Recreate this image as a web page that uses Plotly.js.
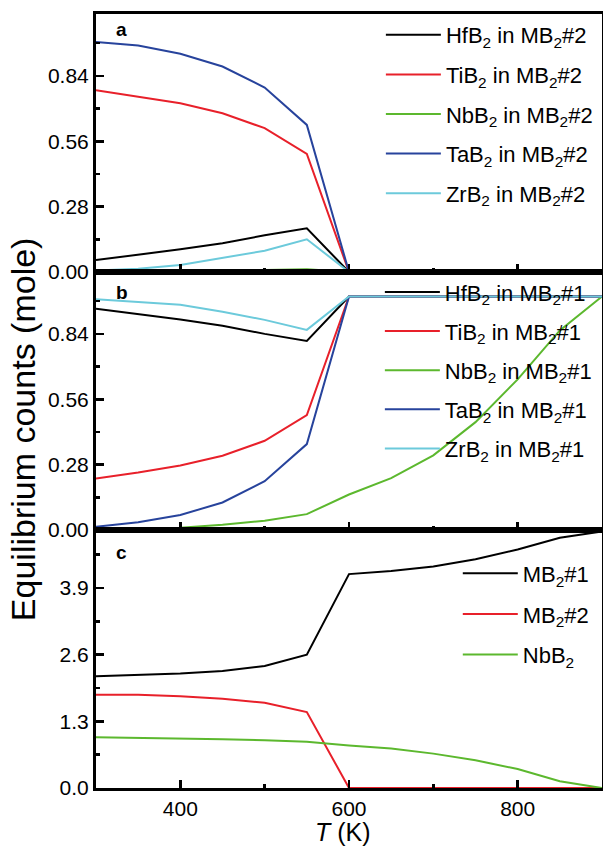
<!DOCTYPE html>
<html><head><meta charset="utf-8">
<script src="https://cdn.plot.ly/plotly-3.0.1.min.js"></script>
<style>html,body{margin:0;padding:0;background:#fff}</style>
</head><body><div id="chart" style="width:603px;height:847px"></div>
<script>
// Temperature (K)
const T = [300,350,400,450,500,550,600,650,700,750,800,850,900];
// Panel a: composition of MB2#2 (mole)
const hfB2_in2 = [0.051,0.073,0.097,0.123,0.157,0.187,0,0,0,0,0,0,0];
const tiB2_in2 = [0.778,0.752,0.723,0.680,0.616,0.506,0,0,0,0,0,0,0];
const nbB2_in2 = [0.001,0.002,0.003,0.005,0.009,0.012,0,0,0,0,0,0,0];
const taB2_in2 = [0.985,0.970,0.935,0.880,0.790,0.630,0,0,0,0,0,0,0];
const zrB2_in2 = [0.006,0.014,0.030,0.059,0.091,0.140,0,0,0,0,0,0,0];
// Panel b: composition of MB2#1 (mole)
const hfB2_in1 = [0.948,0.926,0.902,0.875,0.840,0.810,1,1,1,1,1,1,1];
const tiB2_in1 = [0.221,0.246,0.276,0.318,0.382,0.492,1,1,1,1,1,1,1];
const nbB2_in1 = [0,0.004,0.010,0.022,0.040,0.068,0.152,0.222,0.320,0.462,0.645,0.855,1.0];
const taB2_in1 = [0.014,0.033,0.064,0.118,0.209,0.368,1,1,1,1,1,1,1];
const zrB2_in1 = [0.988,0.978,0.965,0.935,0.900,0.857,1,1,1,1,1,1,1];
// Panel c: phase amounts (mole)
const mb2_1 = [2.18,2.20,2.23,2.28,2.38,2.60,4.17,4.23,4.32,4.46,4.65,4.88,5.0];
const mb2_2 = [1.82,1.82,1.79,1.74,1.66,1.48,0,0,0,0,0,0,0];
const nbB2  = [0.99,0.98,0.97,0.95,0.93,0.90,0.83,0.77,0.67,0.54,0.37,0.13,0];

const FONT = 'Arial, "Liberation Sans", sans-serif';
const C = {black:'#000000', red:'#e8202a', green:'#5cb82e', blue:'#27439c', cyan:'#6ccadb'};

function tr(y, name, color, xa, ya, leg, grp){
  return {x:T, y:y, name:name, type:'scatter', mode:'lines',
    line:{color:color, width:2}, xaxis:xa, yaxis:ya, legend:leg, legendgroup:grp};
}
const data = [
  tr(hfB2_in2,'HfB<sub>2</sub> in MB<sub>2</sub>#2',C.black,'x','y','legend','a1'),
  tr(tiB2_in2,'TiB<sub>2</sub> in MB<sub>2</sub>#2',C.red,'x','y','legend','a2'),
  tr(nbB2_in2,'NbB<sub>2</sub> in MB<sub>2</sub>#2',C.green,'x','y','legend','a3'),
  tr(taB2_in2,'TaB<sub>2</sub> in MB<sub>2</sub>#2',C.blue,'x','y','legend','a4'),
  tr(zrB2_in2,'ZrB<sub>2</sub> in MB<sub>2</sub>#2',C.cyan,'x','y','legend','a5'),
  tr(hfB2_in1,'HfB<sub>2</sub> in MB<sub>2</sub>#1',C.black,'x2','y2','legend2','b1'),
  tr(tiB2_in1,'TiB<sub>2</sub> in MB<sub>2</sub>#1',C.red,'x2','y2','legend2','b2'),
  tr(nbB2_in1,'NbB<sub>2</sub> in MB<sub>2</sub>#1',C.green,'x2','y2','legend2','b3'),
  tr(taB2_in1,'TaB<sub>2</sub> in MB<sub>2</sub>#1',C.blue,'x2','y2','legend2','b4'),
  tr(zrB2_in1,'ZrB<sub>2</sub> in MB<sub>2</sub>#1',C.cyan,'x2','y2','legend2','b5'),
  tr(mb2_1,'MB<sub>2</sub>#1',C.black,'x3','y3','legend3','c1'),
  tr(mb2_2,'MB<sub>2</sub>#2',C.red,'x3','y3','legend3','c2'),
  tr(nbB2,'NbB<sub>2</sub>',C.green,'x3','y3','legend3','c3')
];

function xax(anchor, labels){
  return {anchor:anchor, domain:[0,1], range:[300,900], tick0:0, dtick:200,
    ticks:'inside', ticklen:8, tickwidth:2.5, tickcolor:'#000',
    showticklabels:labels, tickfont:{family:FONT,size:21,color:'#000'},
    ticklabelstandoff:0,
    showline:true, linewidth:3, linecolor:'#000', mirror:true,
    showgrid:false, zeroline:false,
    minor:{ticks:'inside', ticklen:4, tickwidth:2.5, tickcolor:'#000', dtick:100, tick0:0, showgrid:false}};
}
function yax(anchor, domain, range, dtick, fmt){
  return {anchor:anchor, domain:domain, range:range, tick0:0, dtick:dtick, tickformat:fmt,
    ticks:'inside', ticklen:8, tickwidth:2.5, tickcolor:'#000',
    tickfont:{family:FONT,size:21,color:'#000'},
    showline:true, linewidth:3, linecolor:'#000', mirror:true,
    showgrid:false, zeroline:false,
    minor:{ticks:'inside', ticklen:4, tickwidth:2.5, tickcolor:'#000', dtick:dtick/2, tick0:0, showgrid:false}};
}
const legBase = {xanchor:'left', yanchor:'top', bgcolor:'rgba(0,0,0,0)', borderwidth:0,
  font:{family:FONT,size:22,color:'#000'}, itemwidth:55};

const layout = {
  width:603, height:847, margin:{l:96, r:1, t:14, b:59},
  paper_bgcolor:'#fff', plot_bgcolor:'#fff', showlegend:true,
  font:{family:FONT, color:'#000'},
  xaxis: xax('y', false),
  xaxis2: xax('y2', false),
  xaxis3: xax('y3', true),
  yaxis: yax('x', [2/3,1], [0,1.105], 0.28, '.2f'),
  yaxis2: yax('x2', [1/3,2/3], [0,1.105], 0.28, '.2f'),
  yaxis3: yax('x3', [0,1/3], [0,5.03], 1.3, '.1f'),
  legend: Object.assign({}, legBase, {x:0.563, y:1.0, tracegroupgap:8}),
  legend2: Object.assign({}, legBase, {x:0.561, y:0.6677, tracegroupgap:7.5}),
  legend3: Object.assign({}, legBase, {x:0.715, y:0.3042, tracegroupgap:9}),
  annotations:[
    {text:'Equilibrium counts (mole)', xref:'paper', yref:'paper', x:-0.144, y:0.4638,
     xanchor:'center', yanchor:'middle', textangle:-90, showarrow:false,
     font:{family:FONT,size:34,color:'#000'}},
    {text:'<i>T</i> (K)', xref:'paper', yref:'paper', x:0.488, y:-0.0565,
     xanchor:'center', yanchor:'middle', showarrow:false,
     font:{family:FONT,size:25,color:'#000'}},
    {text:'<b>a</b>', xref:'x domain', yref:'y domain', x:0.051, y:0.938, xanchor:'center', yanchor:'middle',
     showarrow:false, font:{family:FONT,size:19,color:'#000'}},
    {text:'<b>b</b>', xref:'x2 domain', yref:'y2 domain', x:0.051, y:0.919, xanchor:'center', yanchor:'middle',
     showarrow:false, font:{family:FONT,size:19,color:'#000'}},
    {text:'<b>c</b>', xref:'x3 domain', yref:'y3 domain', x:0.051, y:0.911, xanchor:'center', yanchor:'middle',
     showarrow:false, font:{family:FONT,size:19,color:'#000'}}
  ]
};
Plotly.newPlot('chart', data, layout, {displayModeBar:false, staticPlot:true});
</script>
</body></html>
